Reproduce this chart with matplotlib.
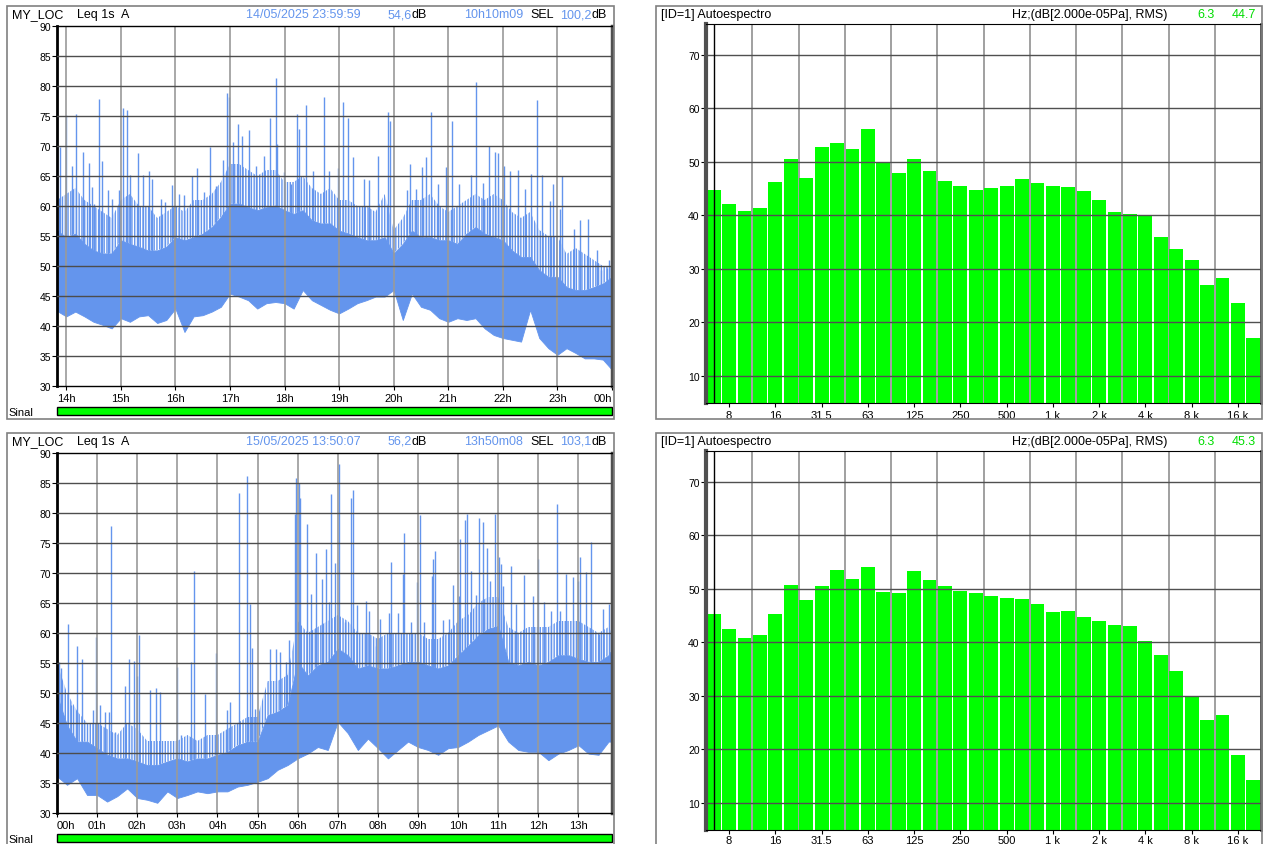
import numpy as np
import matplotlib
matplotlib.use('Agg')
import matplotlib.pyplot as plt
from matplotlib.patches import Rectangle

plt.rcParams['font.family'] = ['Liberation Sans', 'DejaVu Sans']
plt.rcParams['hatch.linewidth'] = 1.0

W, H = 1264, 845
BLUE = '#6495ED'
GREEN = '#00FF00'

# ---- nivel Leq 1s (A): envolvente a cada 10 min + picos ----
t_top = [13 + 50 / 60] + [14 + i / 6 for i in range(61)]
lo_top = [42.5, 41.6, 42.4, 41.6, 40.7, 40.2, 39.6, 41.3, 40.7, 41.6, 41.8, 40.5, 41.0,
          42.9, 39.0, 41.6, 41.8, 42.4, 43.2, 45.4, 44.9, 44.3, 42.9, 43.8, 44.0,
          43.8, 42.9, 46.0, 44.3, 43.5, 42.7, 42.1, 42.9, 43.8, 44.3, 44.9, 44.9,
          46.0, 41.0, 45.4, 43.2, 42.7, 41.3, 40.7, 41.3, 41.0, 41.3, 39.6, 38.5,
          38.0, 37.7, 37.4, 42.7, 38.0, 36.3, 35.2, 36.3, 35.5, 34.6, 34.6, 34.4, 32.7]
hi_top = [55.9, 54.8, 55.4, 53.7, 52.6, 52.1, 52.1, 54.3, 53.7, 53.2, 52.6, 52.6, 53.2,
          54.8, 54.3, 54.8, 55.4, 56.5, 58.2, 60.4, 60.4, 59.8, 59.3, 59.8, 60.1,
          59.3, 58.7, 59.3, 57.6, 57.1, 57.1, 55.9, 55.4, 54.8, 54.3, 54.3, 54.8,
          52.1, 53.7, 55.9, 54.8, 54.8, 54.3, 54.3, 53.7, 55.4, 56.5, 55.4, 54.8,
          54.3, 52.6, 51.5, 51.5, 49.3, 48.2, 48.2, 46.5, 46.0, 46.0, 46.5, 47.1, 48.2]
fz_top = [61, 62, 63, 61, 60, 59, 58, 61, 62, 60, 60, 58, 59,
          60, 59, 61, 61, 62, 64, 67, 67, 66, 65, 66, 66,
          64, 64, 65, 63, 62, 63, 61, 61, 60, 60, 59, 62,
          56, 58, 61, 61, 62, 60, 59, 60, 61, 62, 61, 62,
          61, 59, 58, 59, 56, 55, 55, 52, 53, 52, 51, 50, 50]
spk_t_top = [13.89, 13.99, 14.11, 14.17, 14.31, 14.42, 14.47, 14.51, 14.60, 14.66, 14.76,
             14.84, 14.96, 15.04, 15.11, 15.16, 15.31, 15.40, 15.51, 15.58, 15.73, 15.81,
             15.94, 16.06, 16.16, 16.31, 16.39, 16.52, 16.64, 16.74, 16.87, 16.94, 16.99,
             17.06, 17.14, 17.22, 17.34, 17.47, 17.62, 17.74, 17.84, 17.87, 17.99, 18.12,
             18.22, 18.27, 18.40, 18.52, 18.73, 18.82, 18.98, 19.08, 19.17, 19.25, 19.45,
             19.55, 19.72, 19.89, 19.93, 20.25, 20.30, 20.41, 20.51, 20.60, 20.69, 20.81,
             20.96, 21.06, 21.20, 21.41, 21.50, 21.64, 21.75, 21.86, 21.92, 22.02, 22.13,
             22.28, 22.40, 22.51, 22.63, 22.72, 22.86, 22.91, 23.04, 23.08, 23.31, 23.41,
             23.56, 23.73, 23.80, 23.90, 23.95]
spk_db_top = [69.8, 75.1, 66.7, 75.4, 69.0, 67.1, 63.1, 60.4, 77.9, 67.5, 62.6, 61.2, 62.7,
              76.3, 76.0, 65.1, 68.8, 65.2, 65.9, 64.5, 61.2, 60.7, 63.5, 62.0, 61.8,
              65.0, 66.4, 62.3, 69.9, 63.4, 67.6, 78.8, 78.1, 70.6, 73.7, 71.7, 72.7,
              66.7, 68.4, 74.6, 81.3, 70.3, 65.6, 63.6, 75.4, 72.8, 76.9, 65.9, 78.1,
              65.9, 66.4, 77.3, 74.6, 68.1, 64.5, 64.3, 68.4, 75.6, 74.2, 62.6, 67.0,
              62.9, 66.5, 68.1, 75.6, 63.6, 66.5, 74.2, 63.6, 65.2, 80.6, 63.9, 70.0,
              69.0, 68.9, 66.7, 65.9, 66.0, 62.9, 65.4, 77.6, 65.2, 60.9, 63.6, 59.5,
              65.0, 56.2, 57.7, 57.9, 52.6, 49.3, 49.6, 51.0]

t_bot = [i / 4 for i in range(56)] + [13.835]
lo_bot = [36.1, 34.7, 35.8, 33.0, 33.0, 31.9, 32.8, 34.1, 32.5, 32.2, 31.7, 33.6, 32.5,
          33.0, 33.6, 33.3, 33.6, 33.6, 34.4, 34.7, 35.2, 35.8, 37.2, 38.0, 39.1,
          39.9, 41.0, 40.5, 45.2, 43.3, 40.5, 42.4, 40.8, 39.1, 40.5, 41.9, 41.0,
          40.5, 39.7, 40.8, 41.0, 41.9, 43.0, 43.8, 44.6, 41.9, 40.5, 40.2, 40.2,
          38.8, 39.9, 40.5, 41.3, 39.9, 39.7, 41.9, 41.9]
hi_bot = [49.6, 44.6, 41.9, 41.9, 40.8, 39.7, 39.1, 39.1, 38.6, 38.0, 38.0, 38.6, 39.1,
          38.6, 39.1, 39.1, 39.7, 40.2, 41.3, 41.9, 41.9, 46.3, 46.9, 48.0, 55.2,
          52.9, 54.6, 55.2, 57.4, 56.3, 54.1, 54.6, 54.1, 54.1, 54.6, 55.2, 55.2,
          54.6, 54.1, 54.6, 56.3, 57.9, 59.6, 60.7, 61.2, 55.2, 54.6, 55.2, 54.6,
          55.2, 56.3, 56.3, 55.7, 55.2, 55.2, 56.3, 57.4]
fz_bot = [55, 50, 47, 45, 45, 44, 43, 45, 44, 42, 42, 42, 42,
          43, 42, 43, 43, 44, 45, 46, 46, 52, 52, 53, 62,
          60, 61, 62, 63, 62, 60, 60, 59, 60, 60, 60, 60,
          59, 59, 60, 62, 63, 65, 66, 66, 61, 60, 61, 61,
          61, 62, 62, 62, 61, 60, 61, 60]
spk_t_bot = [0.05, 0.11, 0.27, 0.34, 0.50, 0.62, 0.89, 0.97, 1.06, 1.20, 1.29, 1.35, 1.45,
             1.69, 1.79, 1.91, 1.99, 2.04, 2.32, 2.48, 2.56, 3.00, 3.10, 3.35, 3.42, 3.69,
             3.96, 4.23, 4.32, 4.53, 4.74, 4.81, 4.87, 4.94, 5.31, 5.47, 5.57, 5.70, 5.79,
             5.93, 5.97, 6.03, 6.06, 6.24, 6.33, 6.45, 6.61, 6.70, 6.77, 6.84, 6.94, 7.04,
             7.17, 7.33, 7.37, 7.49, 7.71, 7.78, 7.95, 8.05, 8.28, 8.33, 8.51, 8.62, 8.64,
             8.82, 8.98, 9.05, 9.14, 9.34, 9.38, 9.43, 9.63, 9.76, 9.86, 10.03, 10.05,
             10.16, 10.23, 10.32, 10.45, 10.51, 10.62, 10.71, 10.79, 10.92, 11.01, 11.07,
             11.12, 11.33, 11.45, 11.64, 11.86, 11.99, 12.14, 12.31, 12.46, 12.53, 12.69,
             12.87, 12.99, 13.03, 13.19, 13.32, 13.50, 13.62, 13.76, 13.83]
spk_db_bot = [55.2, 54.1, 61.5, 48.0, 57.9, 55.7, 47.1, 59.3, 48.0, 46.9, 46.9, 77.9, 43.5,
              51.2, 55.7, 55.3, 52.9, 59.6, 50.5, 50.8, 50.2, 54.3, 43.0, 55.2, 70.4, 49.9,
              56.7, 47.1, 48.5, 83.4, 86.1, 64.8, 57.5, 47.4, 57.4, 57.4, 56.8, 55.2, 58.8,
              79.8, 85.9, 85.0, 82.5, 78.2, 66.5, 73.4, 69.0, 74.0, 65.1, 83.1, 71.7, 88.1,
              61.8, 82.5, 83.9, 64.6, 65.4, 63.7, 57.9, 62.3, 63.4, 71.9, 63.4, 69.8, 76.6,
              61.8, 68.5, 79.6, 61.8, 69.5, 72.3, 73.6, 62.1, 62.3, 68.0, 66.1, 75.6,
              78.9, 79.8, 70.4, 66.4, 79.2, 78.5, 74.2, 68.7, 79.9, 72.6, 71.5,
              67.9, 71.2, 64.8, 69.6, 66.1, 72.3, 65.1, 63.7, 81.5, 63.7, 69.8,
              69.3, 68.7, 72.6, 70.1, 75.2, 59.9, 64.0, 64.8, 63.4]

hours_top = list(range(14, 25))
hour_lbl_top = ['14h', '15h', '16h', '17h', '18h', '19h', '20h', '21h', '22h', '23h', '00h']
hours_bot = list(range(0, 14))
hour_lbl_bot = ['00h', '01h', '02h', '03h', '04h', '05h', '06h', '07h', '08h', '09h',
                '10h', '11h', '12h', '13h']

# ---- autoespectro 1/3 oitava ----
bands = ['6.3', '8', '10', '12.5', '16', '20', '25', '31.5', '40', '50', '63', '80', '100',
         '125', '160', '200', '250', '315', '400', '500', '630', '800', '1 k', '1.25 k',
         '1.6 k', '2 k', '2.5 k', '3.15 k', '4 k', '5 k', '6.3 k', '8 k', '10 k', '12.5 k',
         '16 k', '20 k']
shown_bands = ['8', '16', '31.5', '63', '125', '250', '500', '1 k', '2 k', '4 k', '8 k', '16 k']
spec_top = [44.7, 42.1, 40.7, 41.3, 46.2, 50.5, 46.9, 52.7, 53.5, 52.4, 56.1, 49.7, 47.9,
            50.5, 48.2, 46.4, 45.4, 44.7, 45.1, 45.4, 46.7, 46.0, 45.4, 45.2, 44.5, 42.8,
            40.6, 40.2, 40.0, 35.9, 33.6, 31.7, 26.9, 28.2, 23.5, 17.1]
spec_bot = [45.3, 42.4, 40.8, 41.3, 45.3, 50.7, 47.9, 50.5, 53.5, 51.8, 54.1, 49.4, 49.2,
            53.3, 51.6, 50.5, 49.6, 49.2, 48.6, 48.3, 48.1, 47.1, 45.6, 45.8, 44.7, 43.9,
            43.2, 43.0, 40.2, 37.6, 34.6, 30.0, 25.4, 26.3, 19.0, 14.3]


def px_rect(x0, y0, x1, y1):
    return [x0 / W, 1 - y1 / H, (x1 - x0) / W, (y1 - y0) / H]


def frame(x0, y0, x1, y1):
    fig.add_artist(Rectangle((x0 / W, 1 - y1 / H), (x1 - x0) / W, (y1 - y0) / H,
                             transform=fig.transFigure, fill=False, ec='#808080', lw=1.2))


def txt(x, y, s, color='black', size=9, ha='left'):
    fig.text(x / W, 1 - y / H, s, color=color, fontsize=size, ha=ha, va='center')


def level_panel(dy, t, lo, hi, fz, spk_t, spk_db, t0, t1, hrs, hrs_lbl, date, leq, dur, sel):
    frame(7, 7 + dy, 614, 420 + dy)
    txt(12, 15 + dy, 'MY_LOC')
    txt(77, 15 + dy, 'Leq 1s')
    txt(121, 15 + dy, 'A')
    txt(246, 15 + dy, date, BLUE)
    txt(412, 15 + dy, leq, BLUE, ha='right')
    txt(412, 15 + dy, 'dB')
    txt(464, 15 + dy, dur, BLUE)
    txt(530, 15 + dy, 'SEL')
    txt(591, 15 + dy, sel, BLUE, ha='right')
    txt(591, 15 + dy, 'dB')

    ax = fig.add_axes(px_rect(57, 27 + dy, 612, 387 + dy))
    # zona de picos frequentes acima do nucleo denso
    ax.fill_between(t, hi, fz, facecolor='none', edgecolor=BLUE, hatch='||||||', lw=0, zorder=1)
    ax.fill_between(t, lo, hi, color=BLUE, lw=0.6, zorder=1)
    base = np.interp(spk_t, t, hi) - 1
    ax.vlines(spk_t, base, spk_db, color=BLUE, lw=1.0, zorder=1)
    ax.set_xlim(t0, t1)
    ax.set_ylim(30, 90)
    ax.set_yticks(range(30, 95, 5))
    ax.set_xticks(hrs)
    ax.set_xticklabels(hrs_lbl)
    for y in range(35, 90, 5):
        ax.axhline(y, color='#4d4d4d', lw=1, zorder=3)
    for h in hrs:
        ax.axvline(h, color='#9a9a9a', lw=1.2, zorder=2.5)
    ax.tick_params(axis='y', labelsize=7.5, length=3.5, pad=1)
    ax.tick_params(axis='x', labelsize=8, length=3, pad=2)
    ax.spines['left'].set_linewidth(2)
    ax.spines['right'].set_linewidth(2.5)
    ax.spines['right'].set_color('#505050')
    ax.spines['top'].set_linewidth(1)
    ax.spines['bottom'].set_linewidth(1)
    labels = ax.get_xticklabels()
    if hrs[0] == t0:
        labels[0].set_ha('left')
    if hrs[-1] == t1:
        labels[-1].set_ha('right')

    axs = fig.add_axes(px_rect(57, 408 + dy, 612, 416 + dy))
    axs.barh(0, t1 - t0, left=t0, height=1, color=GREEN, edgecolor='black', lw=1, clip_on=False)
    axs.set_xlim(t0, t1)
    axs.set_ylim(-0.5, 0.5)
    axs.axis('off')
    txt(8, 413 + dy, 'Sinal', size=8)


def spectrum_panel(dy, vals, cursor_val, xpad):
    frame(656, 7 + dy, 1262, 420 + dy)
    txt(661, 15 + dy, '[ID=1] Autoespectro')
    txt(1012, 15 + dy, 'Hz;(dB[2.000e-05Pa], RMS)')
    txt(1197, 15 + dy, bands[0], '#00DD00')
    txt(1232, 15 + dy, cursor_val, '#00DD00')

    ax = fig.add_axes(px_rect(706, 25 + dy, 1261, 404 + dy))
    idx = np.arange(len(bands))
    ax.bar(idx, vals, width=0.9, color=GREEN, zorder=2)
    ax.set_xlim(-0.5, len(bands) - 0.5)
    ax.set_ylim(4.9, 75.7)
    ax.set_yticks(range(10, 80, 10))
    pos = [bands.index(b) for b in shown_bands]
    ax.set_xticks(pos)
    ax.set_xticklabels(shown_bands)
    for y in range(10, 80, 10):
        ax.axhline(y, color='#505050', lw=1, zorder=3)
    for b in range(2, len(bands) - 1, 3):
        ax.axvline(b + 0.5, color='#909090', lw=1.2, zorder=1)
    ax.axvline(0, color='black', lw=1, zorder=4)
    ax.tick_params(axis='y', labelsize=7.5, length=3.5, pad=1)
    ax.tick_params(axis='x', labelsize=8, length=3, pad=xpad)
    ax.spines['left'].set_linewidth(3)
    ax.spines['left'].set_color('#505050')
    ax.spines['right'].set_linewidth(2)
    ax.spines['right'].set_color('#505050')


fig = plt.figure(figsize=(W / 100, H / 100), dpi=100)
fig.patch.set_facecolor('white')

level_panel(0, t_top, lo_top, hi_top, fz_top, spk_t_top, spk_db_top,
            13 + 49 / 60 + 51 / 3600, 24, hours_top, hour_lbl_top,
            '14/05/2025 23:59:59', '54,6', '10h10m09', '100,2')
level_panel(427, t_bot, lo_bot, hi_bot, fz_bot, spk_t_bot, spk_db_bot,
            0, 13 + 50 / 60 + 8 / 3600, hours_bot, hour_lbl_bot,
            '15/05/2025 13:50:07', '56,2', '13h50m08', '103,1')
spectrum_panel(0, spec_top, '44.7', 2)
spectrum_panel(427, spec_bot, '45.3', 0.5)

fig.savefig('out.png', dpi=100)
